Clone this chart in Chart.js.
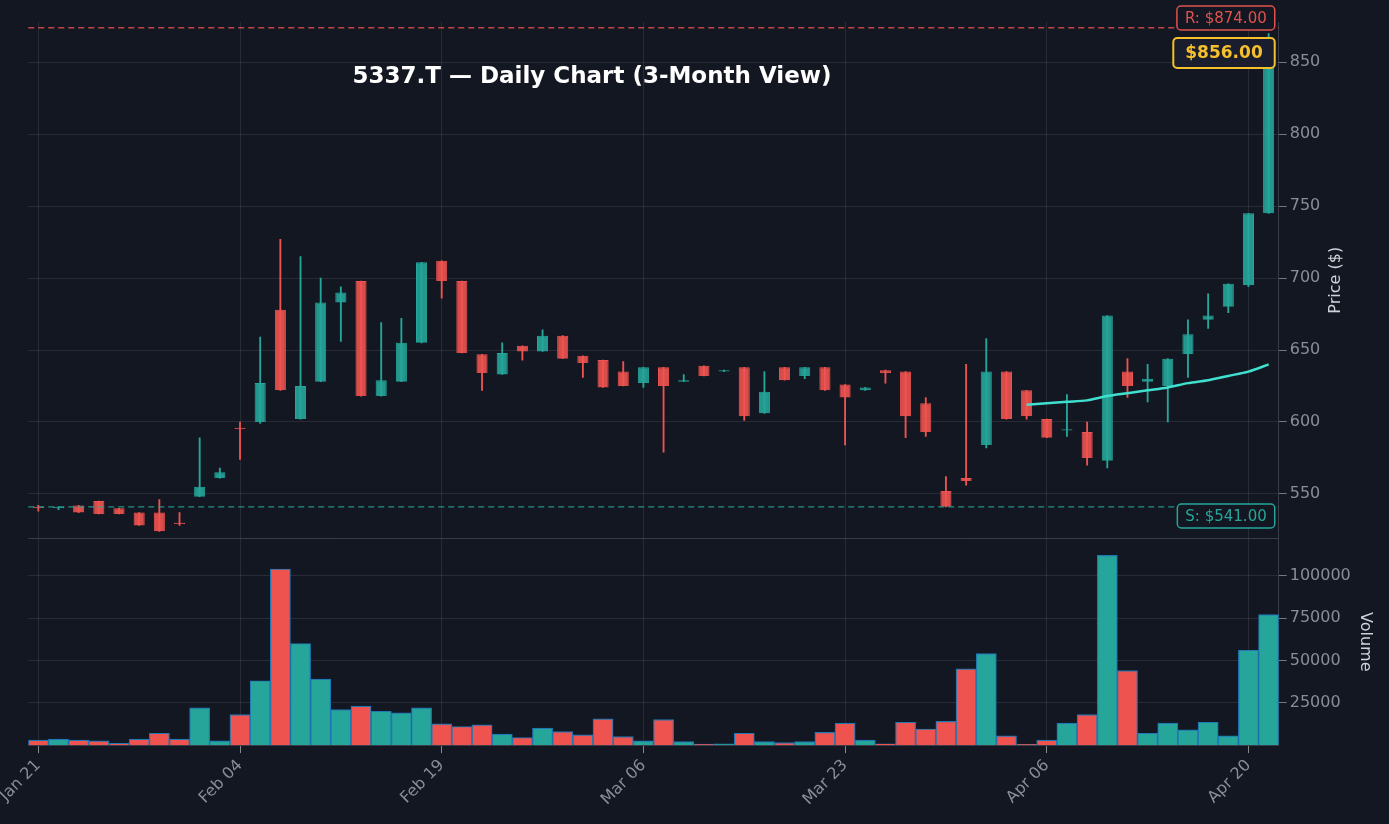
<!DOCTYPE html>
<html><head><meta charset="utf-8">
<script src="https://cdn.jsdelivr.net/npm/chart.js@4"></script>
<style>html,body{margin:0;padding:0;background:#131722;}canvas{position:absolute;left:0;top:0;}</style>
</head><body><canvas id="c" width="1389" height="824"></canvas>
<script>
const dates=["Jan 21","Jan 22","Jan 23","Jan 24","Jan 27","Jan 28","Jan 29","Jan 30","Jan 31","Feb 03","Feb 04","Feb 05","Feb 06","Feb 07","Feb 10","Feb 12","Feb 13","Feb 14","Feb 17","Feb 18","Feb 19","Feb 20","Feb 21","Feb 25","Feb 26","Feb 27","Feb 28","Mar 03","Mar 04","Mar 05","Mar 06","Mar 07","Mar 10","Mar 11","Mar 12","Mar 13","Mar 14","Mar 17","Mar 18","Mar 19","Mar 23","Mar 24","Mar 25","Mar 26","Mar 27","Mar 30","Mar 31","Apr 01","Apr 02","Apr 03","Apr 06","Apr 07","Apr 08","Apr 09","Apr 10","Apr 13","Apr 14","Apr 15","Apr 16","Apr 17","Apr 20","Apr 21"];
const opens=[541,540,542,545,540,537,537,530,548,561,596,600,678,602,628,683,698,618,628,655,712,698,647,633,653,649,660,646,643,635,627,638,628,639,635,638,606,638,632,638,626,622,636,635,613,552,561,584,635,622,602,594,593,573,635,628,625,647,671,680,695,745];
const closes=[540,541,537,536,536,528,524,529,555,565,595,627,622,625,683,690,618,629,655,711,698,648,634,648,649,660,644,641,624,625,638,625,629,632,636,604,621,629,638,622,617,624,634,604,593,541,559,635,602,604,589,595,575,674,625,630,644,661,674,696,745,856];
const highs=[542,541,542,545,540,537,546,537,589,568,600,659,727,715,700,694,698,669,672,711,712,698,647,655,653,664,660,646,643,642,638,638,633,639,636,638,635,638,638,638,626,624,636,635,617,562,640,658,635,622,602,619,600,674,644,640,644,671,689,696,745,870];
const lows=[538,539,537,536,536,528,524,528,548,561,574,599,622,602,628,656,618,618,628,655,686,648,622,633,643,649,644,631,624,625,624,579,628,632,635,601,606,629,630,622,584,622,627,589,590,541,556,582,602,602,589,590,570,568,617,614,600,631,665,676,694,745];
const volumes=[3000,3500,3000,2500,1000,3500,7000,3500,22000,2500,18000,38000,104000,60000,39000,21000,23000,20000,19000,22000,12500,11000,12000,6500,4500,10000,8000,6000,15500,5000,2500,15000,2000,600,700,7000,2000,1500,2000,7500,13000,3000,800,13500,9500,14000,45000,54000,5500,500,3000,13000,18000,112000,44000,7000,13000,9000,13500,5500,56000,77000];
const sma=[null,null,null,null,null,null,null,null,null,null,null,null,null,null,null,null,null,null,null,null,null,null,null,null,null,null,null,null,null,null,null,null,null,null,null,null,null,null,null,null,null,null,null,null,null,null,null,null,null,612,613,614,615,618,620,622,624,627,629,632,635,640];
const resistance=874, support=541, lastPrice=856;
const priceTicks=[550,600,650,700,750,800,850];
const volTicks=[25000,50000,75000,100000];

const UP='#26a69a', DN='#ef5350';
const cols=opens.map((o,i)=>closes[i]>=o?UP:DN);
const bodies=opens.map((o,i)=>{let a=Math.min(o,closes[i]),b=Math.max(o,closes[i]);if(b-a<0.8){b=a+0.8;}return [a,b];});
const wicks=lows.map((l,i)=>[l,highs[i]]);
const grid={color:'rgba(255,255,255,0.09)',borderDash:[1,4],drawTicks:true,tickColor:'#777'};
const xgrid={color:c=>c.index%10===0?'rgba(255,255,255,0.09)':'rgba(0,0,0,0)',tickColor:c=>c.index%10===0?'#888':'rgba(0,0,0,0)',borderDash:[1,4],offset:false};
const F='DejaVu Sans';

const overlay={id:'ov',afterDatasetsDraw(ch){
 const c=ch.ctx,y=ch.scales.y,a=ch.chartArea;
 c.save();
 c.setLineDash([6,4]);c.lineWidth=1.3;
 c.strokeStyle='rgba(239,83,80,0.8)';let yr=y.getPixelForValue(resistance);c.beginPath();c.moveTo(a.left,yr);c.lineTo(a.right,yr);c.stroke();
 c.strokeStyle='rgba(38,166,154,0.85)';let ys=y.getPixelForValue(support);c.beginPath();c.moveTo(a.left,ys);c.lineTo(a.right,ys);c.stroke();
 c.setLineDash([]);
 function box(t,yc,col,fill,font,pad,lw,h){c.font=font;const w=c.measureText(t).width;const x2=a.right-4,x1=x2-w-pad*2;
  c.beginPath();c.roundRect(x1,yc-h/2,x2-x1,h,4);c.fillStyle=fill;c.fill();c.lineWidth=lw;c.strokeStyle=col;c.stroke();
  c.fillStyle=col;c.textBaseline='middle';c.fillText(t,x1+pad,yc+1);}
 box('R: $874.00',18,'#e0514f','#131722','15px '+F,8,1.5,24);
 box('$856.00',53,'#f5c02c','#1a1d2e','bold 17px '+F,12,2,30);
 box('S: $541.00',516,'#26a69a','#131722','15px '+F,8,1.5,24);
 c.font='bold 23px '+F;c.fillStyle='#ffffff';c.textAlign='center';c.textBaseline='middle';
 c.fillText('5337.T — Daily Chart (3-Month View)',592,77);
 c.strokeStyle='#3a3d48';c.lineWidth=1;const yb=ch.scales.yv.top;c.beginPath();c.moveTo(a.left,yb);c.lineTo(a.right,yb);c.stroke();
 c.translate(1336,(a.top+yb)/2);c.rotate(-Math.PI/2);c.font='16px '+F;c.fillStyle='#cfd2d8';c.fillText('Price ($)',0,0);
 c.restore();}};

new Chart(document.getElementById('c'),{
 data:{labels:dates,datasets:[
  {type:'line',data:sma,yAxisID:'y',borderColor:'#40e0d0',borderWidth:2.5,pointRadius:0,tension:0.3,order:0},
  {type:'bar',data:bodies,yAxisID:'y',backgroundColor:cols.map(c=>c==UP?'rgba(38,166,154,0.9)':'rgba(239,83,80,0.9)'),borderColor:cols,borderWidth:1,barPercentage:0.55,categoryPercentage:1,grouped:false,order:1},
  {type:'bar',data:wicks,yAxisID:'y',backgroundColor:cols,barThickness:1.2,grouped:false,order:2},
  {type:'bar',data:volumes,yAxisID:'yv',backgroundColor:cols,borderColor:'#1f77b4',borderWidth:1.2,barPercentage:1,categoryPercentage:1,order:3}
 ]},
 options:{responsive:false,animation:false,devicePixelRatio:1,
  layout:{padding:{left:12,top:22,right:14,bottom:12}},
  plugins:{legend:{display:false},tooltip:{enabled:false}},
  scales:{
   x:{offset:true,grid:xgrid,border:{color:'#3a3d48'},ticks:{color:'#8a8d96',font:{size:16,family:F},maxRotation:45,minRotation:45,autoSkip:false,callback:(v,i)=>i%10===0?dates[i]:''}},
   y:{position:'right',stack:'s',stackWeight:2.5,min:519,max:878,border:{color:'#3a3d48'},grid,
      afterBuildTicks:s=>{s.ticks=priceTicks.map(v=>({value:v}));},
      ticks:{color:'#8a8d96',font:{size:16,family:F},callback:v=>String(v)}},
   yv:{position:'right',stack:'s',stackWeight:1,min:0,max:122000,offset:false,border:{color:'#3a3d48'},grid,
      afterBuildTicks:s=>{s.ticks=volTicks.map(v=>({value:v}));},
      ticks:{color:'#8a8d96',font:{size:16,family:F},callback:v=>String(v)},
      title:{display:true,text:'Volume',color:'#cfd2d8',font:{size:16,family:F},padding:{top:0,bottom:2}}}
  }},
 plugins:[overlay,{id:'bg',beforeDraw(ch){const c=ch.ctx;c.save();c.fillStyle='#131722';c.fillRect(0,0,ch.width,ch.height);c.restore();}}]
});
</script></body></html>
